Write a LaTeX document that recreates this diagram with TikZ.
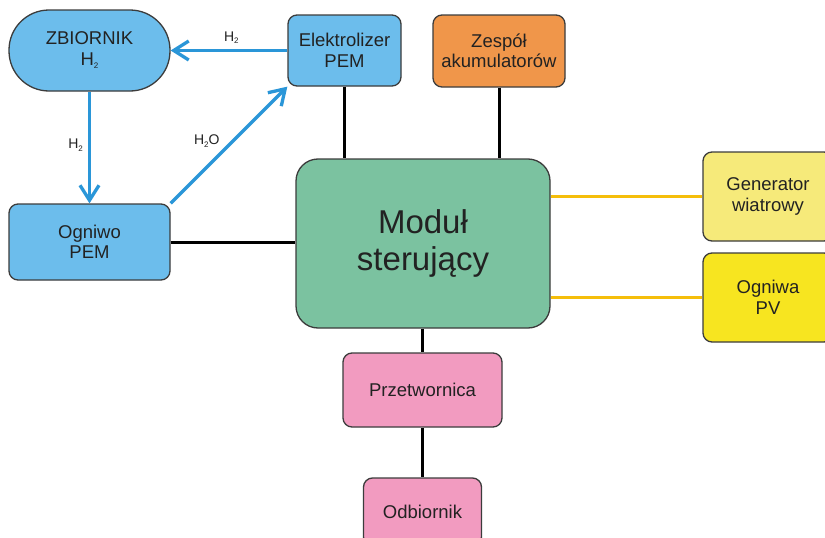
\documentclass[tikz,border=0pt]{standalone}
\usepackage{fontspec}
\setmainfont{Liberation Sans}
\usetikzlibrary{arrows.meta}
\definecolor{bluefill}{HTML}{6CBDEC}
\definecolor{greenfill}{HTML}{7BC2A0}
\definecolor{orangefill}{HTML}{F0964A}
\definecolor{ltyellow}{HTML}{F6EA7A}
\definecolor{yellowfill}{HTML}{F7E520}
\definecolor{pinkfill}{HTML}{F29BC0}
\definecolor{arrowblue}{HTML}{2A96D8}
\definecolor{wireyellow}{HTML}{F5BE0A}
\definecolor{edgegray}{HTML}{3C3C3C}
\definecolor{txt}{HTML}{222222}
\tikzset{
  box/.style={draw=edgegray, line width=1.3pt, rounded corners=9pt, inner sep=0pt,
    align=center, text=txt, font=\fontsize{18.5}{20.5}\selectfont},
  bluebox/.style={box, fill=bluefill},
  flow/.style={draw=arrowblue, line width=3.3pt, -{Straight Barb[length=15pt,width=19pt,line width=3.3pt]}},
  wire/.style={draw=black, line width=3pt},
  ywire/.style={draw=wireyellow, line width=3pt},
  flowlabel/.style={font=\fontsize{14}{16}\selectfont, text=txt, inner sep=1pt}
}
\newcommand{\hsub}[1]{\raisebox{-0.35ex}{\fontsize{8}{9}\selectfont #1}}
\begin{document}
\begin{tikzpicture}[x=1pt,y=-1pt]
\useasboundingbox (0,0) rectangle (825,538);
\clip (0,0) rectangle (825,538);
\fill[white] (0,0) rectangle (825,538);

\node[bluebox, rounded corners=40pt, minimum width=161pt, minimum height=81pt] (zb) at (89.5,50.5) {ZBIORNIK\\H\hsub{2}};
\node[bluebox, minimum width=113pt, minimum height=71pt] (el) at (344.5,50.5) {Elektrolizer\\PEM};
\node[box, fill=orangefill, minimum width=132pt, minimum height=72pt] (zs) at (499,51) {Zespół\\akumulatorów};
\node[bluebox, minimum width=161pt, minimum height=76pt] (og) at (89.5,242) {Ogniwo\\PEM};
\node[box, fill=greenfill, rounded corners=22pt, minimum width=254pt, minimum height=169pt,
  font=\fontsize{33}{37}\selectfont] (mod) at (423,243.5) {Moduł\\sterujący};
\node[box, fill=ltyellow, minimum width=130pt, minimum height=89pt] (gen) at (768,196.5) {Generator\\wiatrowy};
\node[box, fill=yellowfill, minimum width=130pt, minimum height=89pt] (pv) at (768,297.5) {Ogniwa\\PV};
\node[box, fill=pinkfill, minimum width=159pt, minimum height=74pt] (prz) at (422.5,390) {Przetwornica};
\node[box, fill=pinkfill, minimum width=118pt, minimum height=68pt] (odb) at (422.5,512) {Odbiornik};

% blue flows
\draw[flow] (el.west) -- (zb.east) node[flowlabel, pos=0.48, above=4pt] {H\hsub{2}};
\draw[flow] (zb.south) -- (og.north) node[flowlabel, pos=0.48, left=4pt] {H\hsub{2}};
\draw[flow] (og.north east) -- (el.south west) node[flowlabel, pos=0.45, anchor=south east, inner sep=2pt] {H\hsub{2}O};

% black wires
\draw[wire] (el.south) -- (el.south |- mod.north);
\draw[wire] (zs.south) -- (zs.south |- mod.north);
\draw[wire] (og.east) -- (og.east -| mod.west);
\draw[wire] (mod.south -| prz.north) -- (prz.north);
\draw[wire] (prz.south) -- (odb.north);

% yellow wires
\draw[ywire] (gen.west) -- (gen.west -| mod.east);
\draw[ywire] (pv.west) -- (pv.west -| mod.east);
\end{tikzpicture}
\end{document}
